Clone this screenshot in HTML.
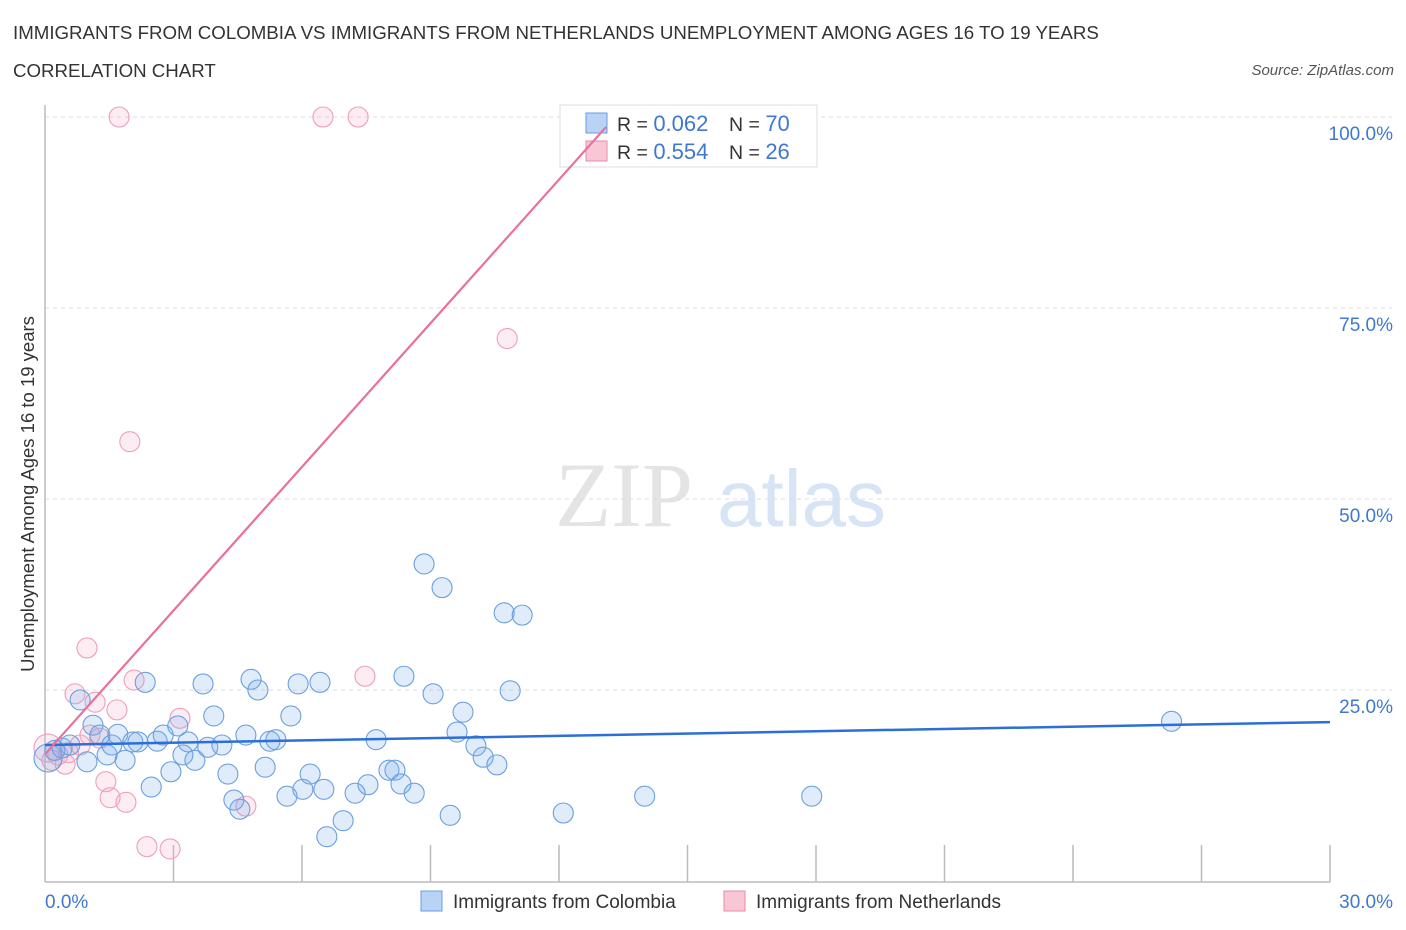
<!DOCTYPE html>
<html><head><meta charset="utf-8"><style>
body{margin:0;background:#fff;font-family:"Liberation Sans",sans-serif;}
#wrap{position:relative;width:1406px;height:930px;overflow:hidden}
.t{position:absolute;white-space:nowrap}
</style></head><body>
<div id="wrap">
<div class="t" style="left:13px;top:22px;font-size:18.7px;color:#333">IMMIGRANTS FROM COLOMBIA VS IMMIGRANTS FROM NETHERLANDS UNEMPLOYMENT AMONG AGES 16 TO 19 YEARS</div>
<div class="t" style="left:13px;top:60px;font-size:18.7px;color:#333">CORRELATION CHART</div>
<div class="t" style="right:12px;top:62px;font-size:15px;color:#555;font-style:italic">Source: ZipAtlas.com</div>
<svg id="svg" width="1406" height="930" style="position:absolute;left:0;top:0"></svg>
</div>
<script>
const xTicks=[0,30];
const yTicks=[25,50,75,100];
const blueX=[0.07,0.23,0.4,0.58,0.82,0.98,1.12,1.28,1.45,1.56,1.7,1.87,2.05,2.17,2.34,2.48,2.62,2.76,2.94,3.1,3.22,3.34,3.5,3.69,3.8,3.94,4.13,4.27,4.41,4.55,4.69,4.81,4.97,5.14,5.25,5.39,5.65,5.74,5.91,6.02,6.19,6.42,6.51,6.58,6.96,7.24,7.54,7.73,8.03,8.17,8.31,8.38,8.62,8.85,9.06,9.27,9.46,9.62,9.76,10.06,10.23,10.55,10.72,10.86,11.14,12.1,14.0,17.9,26.3];
const blueY=[16.1,17.1,17.4,17.8,23.7,15.6,20.4,19.1,16.5,17.8,19.2,15.8,18.2,18.2,26.0,12.3,18.3,19.1,14.3,20.3,16.5,18.2,15.8,25.8,17.5,21.6,17.8,14.0,10.6,9.4,19.1,26.4,25.0,14.9,18.3,18.5,11.1,21.6,25.8,12.0,14.0,26.0,12.0,5.8,7.9,11.5,12.6,18.5,14.5,14.5,12.7,26.8,11.5,41.5,24.5,38.4,8.6,19.5,22.1,17.7,16.2,15.2,35.1,24.9,34.8,8.9,11.1,11.1,20.9];
const pinkX=[0.07,0.16,0.3,0.47,0.55,0.7,0.82,0.98,1.05,1.17,1.28,1.42,1.52,1.68,1.73,1.89,1.98,2.08,2.38,2.92,3.15,4.69,6.49,7.31,7.47,10.79];
const pinkY=[17.4,15.8,16.5,15.3,16.8,24.5,17.8,30.5,19.1,23.4,18.7,13.0,10.9,22.4,100,10.3,57.5,26.3,4.5,4.2,21.3,9.8,100,100,26.8,71.0];
const blueTrend=[[0,17.8],[30,20.8]];
const pinkTrend=[[0,16.6],[13.1,98.7]];
const X=v=>45+v/30*1285, Y=v=>881-v/100*764;
const svg=document.getElementById('svg'),NS='http://www.w3.org/2000/svg';
function mk(tag,at,parent){const e=document.createElementNS(NS,tag);for(const k in at)e.setAttribute(k,at[k]);(parent||svg).appendChild(e);return e;}
let wm=mk('text',{x:555,y:526,'font-size':92,'font-family':'Liberation Serif,serif',fill:'#e4e4e4'});wm.textContent='ZIP';


let wm2=mk('text',{x:717,y:526,'font-size':80,'font-family':'Liberation Sans,sans-serif',fill:'#d6e4f5'});wm2.textContent='atlas';


yTicks.forEach(v=>{
 let g=mk('line',{x1:45,x2:1392,y1:Y(v),y2:Y(v),stroke:'#ddd','stroke-dasharray':'4,4'});
 
 
 let t=mk('text',{x:1393,y:Y(v)+23,'text-anchor':'end','font-size':19,fill:'#3f78d0'});t.textContent=v.toFixed(1)+'%';
 
 
});
let topGrid=mk('line',{x1:45,x2:1392,y1:117,y2:117,stroke:'#ddd','stroke-dasharray':'4,4'});


let ax=mk('line',{x1:45,x2:45,y1:105,y2:882,stroke:'#bbb','stroke-width':1.5});


let bx=mk('line',{x1:45,x2:1330,y1:882,y2:882,stroke:'#bbb','stroke-width':1.5});


for(let i=1;i<=10;i++){let tk=mk('line',{x1:X(i*3),x2:X(i*3),y1:845,y2:882,stroke:'#bbb','stroke-width':1.5});
 
 }
xTicks.forEach(v=>{let t=mk('text',{x:v==0?45:1393,y:908,'text-anchor':v==0?'start':'end','font-size':19,fill:'#3f78d0'});t.textContent=v.toFixed(1)+'%';
 
 });
let yt=mk('text',{x:0,y:0,'font-size':18.5,fill:'#333','text-anchor':'middle',transform:'translate(34,494) rotate(-90)'});yt.textContent='Unemployment Among Ages 16 to 19 years';


let lg=mk('rect',{x:560,y:105,width:257,height:62,fill:'#fff',stroke:'#ddd'});


[[0,'#b9d3f5','#6a9be0','0.062','70'],[1,'#f9c6d5','#e88aa8','0.554','26']].forEach(([i,f,s,r,n])=>{
 const y=113+i*28;
 let sq=mk('rect',{x:586,y:y,width:21,height:20,fill:f,stroke:s});
 
 
 let t=mk('text',{x:617,y:y+18,'font-size':19.5,fill:'#333'});
 t.innerHTML='R = <tspan fill="#3f78d0" font-size="22">'+r+'</tspan><tspan x="729">N = </tspan><tspan fill="#3f78d0" font-size="22">'+n+'</tspan>';
 
 
});
function pts(xs,ys,fill,stroke,name){xs.forEach((x,i)=>{const r=(i==0?14:10);
 let c=mk('circle',{cx:X(x),cy:Y(ys[i]),r:r,fill:fill,stroke:stroke,'stroke-width':1.1});
 
 });}
pts(pinkX,pinkY,'rgba(245,170,195,0.22)','#ee9fb8','point-netherlands');
pts(blueX,blueY,'rgba(120,170,232,0.22)','#6a9fe0','point-colombia');
let bl=mk('line',{x1:X(blueTrend[0][0]),y1:Y(blueTrend[0][1]),x2:X(blueTrend[1][0]),y2:Y(blueTrend[1][1]),stroke:'#2c6fd6','stroke-width':2.5});


let pl=mk('line',{x1:X(pinkTrend[0][0]),y1:Y(pinkTrend[0][1]),x2:X(pinkTrend[1][0]),y2:Y(pinkTrend[1][1]),stroke:'#e8709a','stroke-width':2.2});


[[421,'#b9d3f5','#6a9be0','Immigrants from Colombia'],[724,'#f9c6d5','#e88aa8','Immigrants from Netherlands']].forEach(([x,f,s,l])=>{
 let sq=mk('rect',{x:x,y:891,width:21,height:20,fill:f,stroke:s});
 
 
 let t=mk('text',{x:x+32,y:908,'font-size':19,fill:'#333'});t.textContent=l;
 
 
});
</script>
</body></html>
